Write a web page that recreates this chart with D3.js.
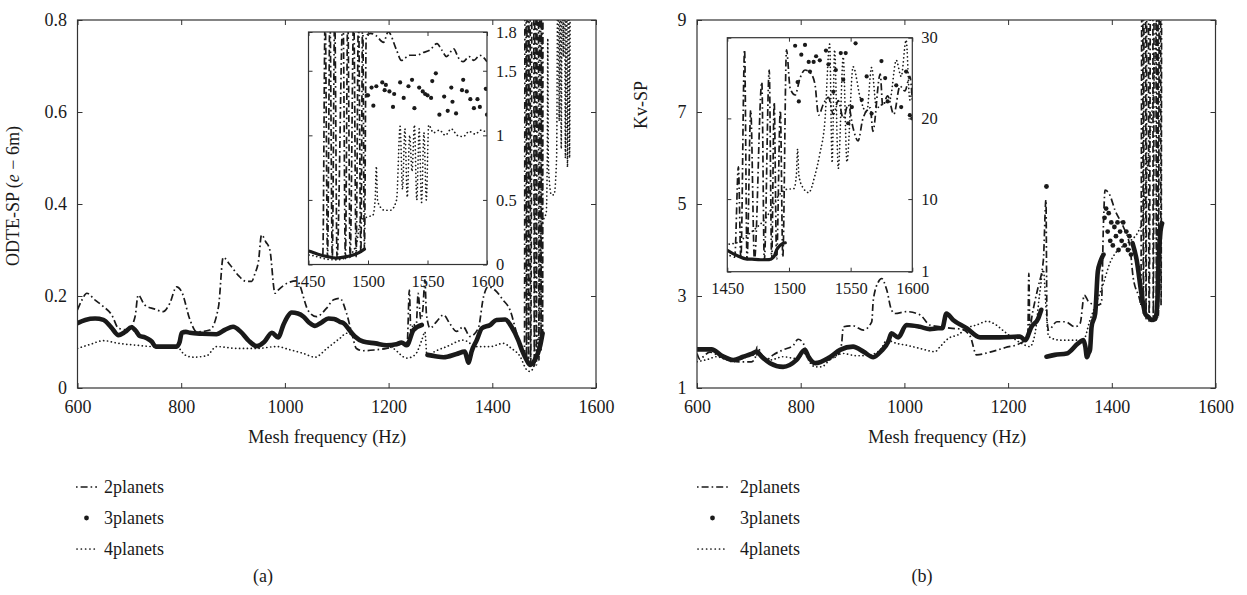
<!DOCTYPE html>
<html>
<head>
<meta charset="utf-8">
<script src="https://d3js.org/d3.v7.min.js"></script>
<style>
  body { margin: 0; background: #fff; }
  svg { display: block; }
</style>
</head>
<body>
<script>
// ---- data ----
var xTicksMain = [600, 800, 1000, 1200, 1400, 1600];
var xTicksInset = [1450, 1500, 1550, 1600];
var yTicksOdte = [0, 0.2, 0.4, 0.6, 0.8];
var yTicksOdteInset = [0, 0.5, 1, 1.5, 1.8];
var yTicksKv = [1, 3, 5, 7, 9];
var yTicksKvInset = [1, 10, 20, 30];
var seriesNames = ["2planets", "3planets", "4planets"];

// (a) ODTE-SP, 2 planets (dash-dot)
var odte2 = [[600,0.170],[608,0.19],[618,0.206],[634,0.191],[650,0.177],[666,0.159],[679,0.130],[698,0.126],[711,0.155],[717,0.202],[730,0.180],[748,0.172],[765,0.166],[778,0.184],[791,0.220],[801,0.209],[817,0.148],[830,0.122],[855,0.126],[872,0.177],[881,0.284],[894,0.268],[910,0.245],[925,0.232],[936,0.232],[942,0.248],[949,0.275],[955,0.333],[963,0.318],[971,0.300],[981,0.206],[987,0.213],[1005,0.228],[1023,0.233],[1045,0.168],[1061,0.155],[1080,0.173],[1094,0.192],[1106,0.195],[1119,0.162],[1129,0.119],[1138,0.086],[1151,0.081],[1175,0.083],[1196,0.086],[1225,0.096],[1236,0.10],[1240,0.213],[1243,0.12],[1248,0.14],[1253,0.13],[1257,0.206],[1262,0.15],[1266,0.17],[1270,0.235],[1273,0.16],[1280,0.130],[1293,0.145],[1306,0.159],[1318,0.14],[1331,0.123],[1344,0.133],[1357,0.112],[1373,0.130],[1383,0.198],[1392,0.220],[1405,0.213],[1421,0.191],[1434,0.170],[1447,0.119],[1458,0.08],[1462,0.07],[1464,1.95],[1466,0.06],[1468,1.95],[1470,0.05],[1472,1.95],[1474,0.05],[1479,1.95],[1481,0.045],[1483,1.95],[1485,0.05],[1488,1.95],[1490,0.06],[1492,1.95],[1494,0.08],[1495.5,1.95],[1497,0.12],[1498.5,1.77],[1502,1.79],[1507,1.77],[1513,1.72],[1517,1.80],[1524,1.66],[1528,1.58],[1535,1.62],[1541,1.62],[1546,1.64],[1552,1.66],[1558,1.71],[1562,1.66],[1566,1.61],[1572,1.67],[1576,1.60],[1580,1.57],[1585,1.61],[1589,1.58],[1594,1.62],[1600,1.57]];
// (a) 3 planets, dense trace (null = gap)
var odte3 = [[600,0.141],[615,0.148],[634,0.151],[650,0.148],[665,0.132],[679,0.115],[692,0.122],[704,0.132],[712,0.125],[720,0.113],[730,0.110],[737,0.106],[743,0.101],[751,0.090],[770,0.090],[791,0.090],[797,0.100],[801,0.120],[809,0.122],[817,0.120],[840,0.118],[868,0.117],[885,0.127],[900,0.133],[915,0.122],[930,0.103],[946,0.091],[960,0.100],[975,0.120],[987,0.110],[997,0.137],[1005,0.155],[1013,0.164],[1025,0.162],[1036,0.155],[1047,0.142],[1058,0.135],[1070,0.142],[1084,0.151],[1095,0.150],[1106,0.144],[1113,0.141],[1125,0.125],[1135,0.112],[1151,0.101],[1175,0.097],[1196,0.093],[1215,0.095],[1225,0.099],[1235,0.093],[1248,0.126],[1264,0.137],[1270,null],[1275,0.072],[1290,0.069],[1306,0.067],[1331,0.074],[1347,0.079],[1351,0.065],[1354,0.055],[1357,0.065],[1360,0.079],[1370,0.104],[1380,0.130],[1396,0.137],[1408,0.148],[1425,0.149],[1437,0.133],[1450,0.104],[1458,0.08],[1466,0.061],[1473,0.050],[1482,0.061],[1492,0.090],[1497,0.119]];
// (a) 3 planets, scattered points
var odte3Dots = [[1499,1.31],[1500,1.31],[1503,1.37],[1504.5,1.23],[1507,1.38],[1512,1.41],[1514,1.35],[1515,1.39],[1518,1.34],[1521,1.22],[1522,1.32],[1527,1.41],[1530,1.29],[1534,1.38],[1537,1.43],[1539,1.21],[1543,1.37],[1546,1.34],[1548,1.32],[1550,1.31],[1553,1.29],[1554,1.42],[1557,1.48],[1560,1.16],[1564,1.30],[1567,1.19],[1570,1.37],[1571,1.26],[1574,1.17],[1579,1.35],[1580,1.43],[1583,1.34],[1586,1.28],[1589,1.21],[1592,1.28],[1594,1.22],[1599,1.36],[1600,1.16]];
// (a) 4 planets (dotted)
var odte4 = [[600,0.086],[625,0.095],[650,0.103],[679,0.097],[714,0.093],[746,0.090],[791,0.090],[807,0.072],[823,0.067],[849,0.070],[868,0.090],[907,0.086],[946,0.086],[984,0.090],[1010,0.083],[1036,0.075],[1058,0.067],[1081,0.086],[1106,0.108],[1119,0.119],[1145,0.105],[1177,0.097],[1209,0.086],[1235,0.065],[1251,0.072],[1264,0.104],[1270,0.122],[1274,0.07],[1290,0.08],[1312,0.090],[1344,0.104],[1370,0.090],[1396,0.090],[1421,0.097],[1437,0.086],[1454,0.068],[1466,0.04],[1473,0.036],[1482,0.054],[1490,0.15],[1494,0.34],[1500,0.37],[1504,0.38],[1506,0.5],[1507,0.76],[1508,0.5],[1510,0.45],[1514,0.42],[1519,0.42],[1524,0.5],[1527,1.07],[1529,0.58],[1531,1.05],[1533,0.52],[1535,1.0],[1537,0.72],[1539,1.08],[1541,0.5],[1543,1.05],[1545,0.48],[1547,1.02],[1549,0.5],[1551,1.08],[1555,1.02],[1560,1.04],[1565,1.0],[1570,1.05],[1575,1.0],[1580,0.99],[1585,1.03],[1590,1.01],[1595,1.04],[1600,1.02]];

// (b) Kv-SP
var kv2 = [[600,1.75],[606,1.62],[612,1.68],[625,1.78],[645,1.68],[665,1.6],[683,1.57],[705,1.57],[712,1.65],[716,1.9],[725,1.72],[735,1.62],[747,1.72],[766,1.83],[786,1.93],[795,2.06],[805,1.97],[812,1.72],[818,1.6],[835,1.55],[855,1.62],[872,1.72],[879,1.97],[882,2.33],[901,2.35],[921,2.26],[937,2.44],[940,2.91],[950,3.31],[956,3.38],[966,3.13],[975,2.70],[982,2.62],[1004,2.66],[1030,2.59],[1049,2.37],[1069,2.33],[1088,2.30],[1110,2.28],[1127,2.12],[1139,1.72],[1165,1.78],[1195,1.88],[1223,1.97],[1238,2.1],[1240,3.49],[1242,2.2],[1245,2.48],[1252,2.9],[1258,3.2],[1268,3.78],[1273,5.09],[1275,2.5],[1278,2.26],[1294,2.44],[1310,2.44],[1329,2.33],[1339,2.41],[1347,3.02],[1355,2.88],[1371,2.80],[1380,2.84],[1384,4.6],[1387,5.3],[1396,5.2],[1406,4.87],[1422,4.51],[1435,4.07],[1441,3.42],[1454,2.91],[1456,2.8],[1459,14],[1461,2.6],[1464,28.5],[1466,2.5],[1469,21],[1472,2.45],[1478,24.5],[1480,2.45],[1484,26],[1486,2.5],[1488,22],[1490,2.55],[1493,21],[1495,2.8],[1498,28.5],[1501,23.7],[1505,22.9],[1509,25],[1513,26],[1517,25.7],[1521,24.3],[1524,20.4],[1528,21.8],[1532,22.6],[1536,20.5],[1540,22.2],[1544,20],[1548,21.7],[1552,18.8],[1556,17.2],[1560,20],[1566,21.3],[1568,18.4],[1574,25.5],[1576,21.6],[1580,22.8],[1585,20.5],[1590,24],[1594,23.4],[1598,25.2],[1600,22.3]];
var kv3 = [[600,1.84],[628,1.84],[648,1.70],[670,1.61],[689,1.68],[705,1.74],[715,1.79],[725,1.68],[741,1.54],[766,1.46],[792,1.61],[808,1.83],[815,1.68],[828,1.54],[856,1.67],[876,1.83],[901,1.90],[921,1.79],[940,1.67],[955,1.8],[969,2.01],[975,2.19],[988,2.10],[1004,2.37],[1030,2.33],[1049,2.28],[1065,2.30],[1073,2.3],[1081,2.62],[1094,2.48],[1120,2.30],[1146,2.10],[1184,2.10],[1223,2.12],[1233,2.04],[1245,2.33],[1258,2.51],[1264,2.7],[1268,null],[1274,1.68],[1290,1.72],[1313,1.75],[1335,1.97],[1345,2.04],[1349,1.9],[1352,1.67],[1355,1.75],[1358,1.83],[1361,2.33],[1368,2.62],[1373,3.53],[1378,3.75],[1382,3.86],[1386,null],[1440,4.15],[1448,3.78],[1457,3.06],[1465,2.6],[1470,2.55],[1477,2.48],[1484,2.5],[1488,2.9],[1490,3.7],[1493,4.3],[1497,4.58]];
var kv3Dots = [[1274,5.38],[1384,3.9],[1386,4.7],[1389,4.9],[1392,4.4],[1394,4.8],[1397,4.2],[1399,4.6],[1402,4.1],[1405,4.5],[1408,4.3],[1411,4.6],[1413,4.0],[1416,4.4],[1419,4.2],[1422,4.6],[1425,4.1],[1428,4.4],[1431,4.0],[1434,4.3],[1437,3.9],[1505,29.0],[1507,24.5],[1508,22.1],[1510,27.9],[1513,29.1],[1516,27.0],[1517,25.8],[1520,27.0],[1522,27.7],[1525,27.2],[1530,28.4],[1532,26.7],[1536,23.3],[1538,26.0],[1542,28.1],[1544,24.8],[1546,28.1],[1548,19.4],[1551,21.4],[1554,29.3],[1559,22.3],[1563,25.2],[1567,20.6],[1575,27.1],[1578,25.0],[1580,22.1],[1587,24.1],[1591,21.4],[1595,25.8],[1598,20.4],[1600,20.0]];
var kv4 = [[600,1.57],[620,1.62],[638,1.68],[655,1.62],[670,1.57],[692,1.66],[715,1.72],[741,1.61],[766,1.68],[792,1.64],[808,1.75],[818,1.55],[828,1.46],[840,1.46],[856,1.61],[882,1.75],[908,1.70],[934,1.72],[955,1.85],[966,2.04],[985,1.97],[1004,1.93],[1030,1.86],[1059,1.79],[1069,1.90],[1085,2.08],[1104,2.16],[1120,2.3],[1139,2.37],[1160,2.45],[1171,2.41],[1197,2.19],[1226,1.97],[1242,1.90],[1252,2.19],[1261,3.06],[1268,3.57],[1273,2.77],[1278,2.12],[1300,2.04],[1326,2.04],[1345,2.04],[1358,2.48],[1371,2.88],[1384,3.28],[1396,3.71],[1409,3.96],[1425,4.11],[1438,4.22],[1451,4.4],[1458,4.6],[1466,5.5],[1474,6.5],[1482,7.8],[1491,10.3],[1498,11.2],[1504,11.3],[1506,13],[1507,16.2],[1508,13],[1511,11.5],[1516,10.8],[1521,12.9],[1525,15.6],[1529,19.4],[1533,29.2],[1535,14.5],[1537,28.5],[1540,13.8],[1544,27.6],[1547,14.6],[1552,26.4],[1558,22.4],[1563,20.7],[1567,26.3],[1571,21.3],[1576,21.8],[1582,22.4],[1587,27.2],[1591,25.2],[1595,29.7],[1598,22.3],[1600,24]];

// ---- drawing ----
var FONT = "'Liberation Serif', 'Times New Roman', serif";
var INK = "#1a1a1a";

var svg = d3.select("body").append("svg")
    .attr("width", 1247)
    .attr("height", 595);
var defs = svg.append("defs");

function styleAxis(g, size) {
    g.select(".domain").remove();
    g.attr("font-family", FONT).attr("font-size", size);
    g.selectAll("line").attr("stroke", "#333").attr("stroke-width", 1);
    g.selectAll("text").attr("fill", INK);
}

function drawPanel(p) {
    var x = d3.scaleLinear().domain(p.xDomain).range([p.x0, p.x1]);
    var y = d3.scaleLinear().domain(p.yDomain).range([p.y1, p.y0]);
    var g = svg.append("g");

    defs.append("clipPath").attr("id", p.id)
        .append("rect")
        .attr("x", p.x0).attr("y", p.y0)
        .attr("width", p.x1 - p.x0).attr("height", p.y1 - p.y0);

    if (p.inset) {
        g.append("rect")
            .attr("x", p.x0).attr("y", p.y0)
            .attr("width", p.x1 - p.x0).attr("height", p.y1 - p.y0)
            .attr("fill", "#fff");
    }

    var line = d3.line()
        .defined(function(d) { return d[1] !== null; })
        .x(function(d) { return x(d[0]); })
        .y(function(d) { return y(d[1]); })
        .curve(d3.curveMonotoneX);

    var plot = g.append("g").attr("clip-path", "url(#" + p.id + ")");
    plot.append("path").datum(p.s4)
        .attr("d", line)
        .attr("fill", "none").attr("stroke", INK)
        .attr("stroke-width", 1.7)
        .attr("stroke-linecap", "round")
        .attr("stroke-dasharray", "0.1,3.8");
    plot.append("path").datum(p.s2)
        .attr("d", line)
        .attr("fill", "none").attr("stroke", INK)
        .attr("stroke-width", 1.7)
        .attr("stroke-dasharray", "7,3,1.6,3");
    plot.append("path").datum(p.s3)
        .attr("d", line)
        .attr("fill", "none").attr("stroke", INK)
        .attr("stroke-width", p.inset ? 3.2 : 4.6)
        .attr("stroke-linecap", "round")
        .attr("stroke-linejoin", "round");
    plot.selectAll("circle.dot")
        .data(p.s3dots)
        .enter()
        .append("circle")
        .attr("class", "dot")
        .attr("cx", function(d) { return x(d[0]); })
        .attr("cy", function(d) { return y(d[1]); })
        .attr("r", p.inset ? 2.1 : 2.4)
        .attr("fill", INK);

    var fs = p.inset ? 16.5 : 18;
    var tl = p.inset ? 4 : 5;
    var fmt = d3.format("~g");

    // bottom
    g.append("g").attr("transform", "translate(0," + p.y1 + ")")
        .call(d3.axisBottom(x).tickValues(p.xTicks).tickFormat(d3.format("d"))
            .tickSizeInner(-tl).tickSizeOuter(0).tickPadding(p.inset ? 11 : 12))
        .call(styleAxis, fs);
    // top
    g.append("g").attr("transform", "translate(0," + p.y0 + ")")
        .call(d3.axisTop(x).tickValues(p.xTicks).tickFormat("")
            .tickSizeInner(-tl).tickSizeOuter(0))
        .call(styleAxis, fs);
    // left / right
    var yLabels, yPlain;
    if (p.inset) {
        yLabels = d3.axisRight(y).tickValues(p.yTicks).tickFormat(fmt).tickSizeInner(-tl).tickSizeOuter(0).tickPadding(9);
        yPlain = d3.axisLeft(y).tickValues(p.yTicks).tickFormat("").tickSizeInner(-tl).tickSizeOuter(0);
        g.append("g").attr("transform", "translate(" + p.x1 + ",0)").call(yLabels).call(styleAxis, fs);
        g.append("g").attr("transform", "translate(" + p.x0 + ",0)").call(yPlain).call(styleAxis, fs);
    } else {
        yLabels = d3.axisLeft(y).tickValues(p.yTicks).tickFormat(fmt).tickSizeInner(-tl).tickSizeOuter(0).tickPadding(10.5);
        yPlain = d3.axisRight(y).tickValues(p.yTicks).tickFormat("").tickSizeInner(-tl).tickSizeOuter(0);
        g.append("g").attr("transform", "translate(" + p.x0 + ",0)").call(yLabels).call(styleAxis, fs);
        g.append("g").attr("transform", "translate(" + p.x1 + ",0)").call(yPlain).call(styleAxis, fs);
    }

    g.append("rect")
        .attr("x", p.x0).attr("y", p.y0)
        .attr("width", p.x1 - p.x0).attr("height", p.y1 - p.y0)
        .attr("fill", "none").attr("stroke", "#333").attr("stroke-width", 1.2);
}

function drawTitles(p) {
    var t = svg.append("g").attr("font-family", FONT).attr("fill", INK);
    t.append("text")
        .attr("x", p.titleX).attr("y", 443)
        .attr("text-anchor", "middle").attr("font-size", 18.5)
        .text("Mesh frequency (Hz)");
    var yl = t.append("text")
        .attr("transform", "translate(" + p.ylabX + "," + p.ylabY + ") rotate(-90)")
        .attr("text-anchor", "middle").attr("font-size", 18);
    p.ylab(yl);
    t.append("text")
        .attr("x", p.tagX).attr("y", 582)
        .attr("text-anchor", "middle").attr("font-size", 18)
        .text(p.tag);

    // legend
    var lg = t.append("g");
    var rows = [487, 518, 549];
    var sx = p.legX, sw = p.legW;
    lg.append("line")
        .attr("x1", sx).attr("x2", sx + sw).attr("y1", rows[0]).attr("y2", rows[0])
        .attr("stroke", INK).attr("stroke-width", 1.7).attr("stroke-dasharray", "1.6,3,7,3");
    lg.append("circle")
        .attr("cx", sx + sw / 2).attr("cy", rows[1]).attr("r", 2.4).attr("fill", INK);
    lg.append("line")
        .attr("x1", sx + 1).attr("x2", sx + sw).attr("y1", rows[2]).attr("y2", rows[2])
        .attr("stroke", INK).attr("stroke-width", 1.7).attr("stroke-linecap", "round")
        .attr("stroke-dasharray", "0.1,4.2");
    lg.selectAll("text.leg")
        .data(seriesNames)
        .enter()
        .append("text")
        .attr("class", "leg")
        .attr("x", p.legText)
        .attr("y", function(d, i) { return rows[i] + 6; })
        .attr("font-size", 18)
        .text(function(d) { return d; });
}

var left = {id: "clipA", x0: 77.5, x1: 596, y0: 20, y1: 388,
    xDomain: [600, 1600], yDomain: [0, 0.8], xTicks: xTicksMain, yTicks: yTicksOdte,
    s2: odte2, s3: odte3, s3dots: odte3Dots, s4: odte4};
var leftInset = {id: "clipAi", inset: true, x0: 308.5, x1: 487, y0: 32, y1: 264.5,
    xDomain: [1450, 1600], yDomain: [0, 1.8], xTicks: xTicksInset, yTicks: yTicksOdteInset,
    s2: odte2, s3: odte3, s3dots: odte3Dots, s4: odte4};
var right = {id: "clipB", x0: 697, x1: 1215.5, y0: 20, y1: 388,
    xDomain: [600, 1600], yDomain: [1, 9], xTicks: xTicksMain, yTicks: yTicksKv,
    s2: kv2, s3: kv3, s3dots: kv3Dots, s4: kv4};
var rightInset = {id: "clipBi", inset: true, x0: 727.3, x1: 912.3, y0: 37.7, y1: 271.7,
    xDomain: [1450, 1600], yDomain: [1, 30], xTicks: xTicksInset, yTicks: yTicksKvInset,
    s2: kv2, s3: kv3, s3dots: kv3Dots, s4: kv4};

drawPanel(left);
drawPanel(leftInset);
drawPanel(right);
drawPanel(rightInset);

drawTitles({titleX: 327, ylabX: 19, ylabY: 196, tagX: 263, tag: "(a)",
    legX: 76, legW: 21, legText: 104,
    ylab: function(el) {
        el.append("tspan").text("ODTE-SP (");
        el.append("tspan").attr("font-style", "italic").text("e");
        el.append("tspan").text(" \u2212 6m)");
    }});
drawTitles({titleX: 947, ylabX: 647, ylabY: 105, tagX: 922, tag: "(b)",
    legX: 697, legW: 31, legText: 740,
    ylab: function(el) { el.text("Kv-SP"); }});
</script>
</body>
</html>
